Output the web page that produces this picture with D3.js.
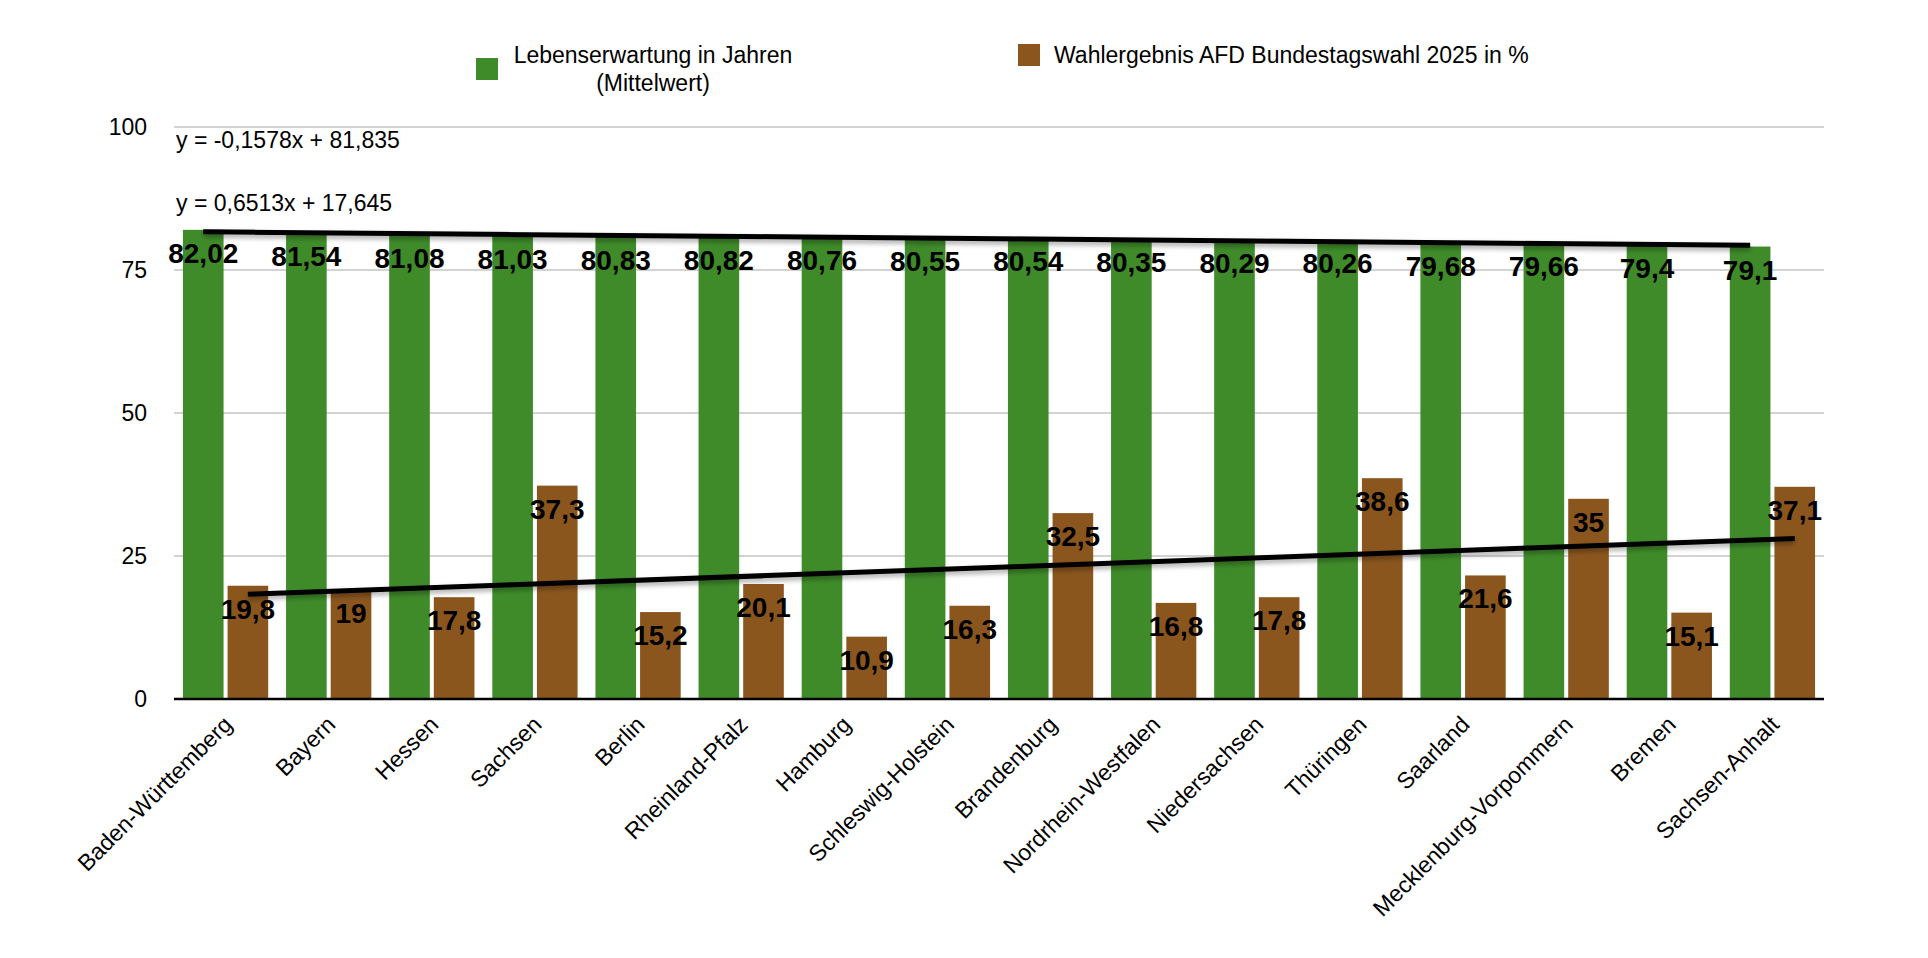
<!DOCTYPE html>
<html>
<head>
<meta charset="utf-8">
<script src="https://cdn.jsdelivr.net/npm/d3@7"></script>
<style>
  body { margin: 0; background: #fff; }
  svg { font-family: "Liberation Sans", Arial, Helvetica, sans-serif; }
</style>
</head>
<body>
<div id="chart"></div>
<script>
// data
const categories = ["Baden-Württemberg", "Bayern", "Hessen", "Sachsen", "Berlin", "Rheinland-Pfalz",
    "Hamburg", "Schleswig-Holstein", "Brandenburg", "Nordrhein-Westfalen", "Niedersachsen",
    "Thüringen", "Saarland", "Mecklenburg-Vorpommern", "Bremen", "Sachsen-Anhalt"];
const lifeExpectancy = [82.02, 81.54, 81.08, 81.03, 80.83, 80.82, 80.76, 80.55, 80.54, 80.35, 80.29, 80.26, 79.68, 79.66, 79.4, 79.1];
const afdResult = [19.8, 19, 17.8, 37.3, 15.2, 20.1, 10.9, 16.3, 32.5, 16.8, 17.8, 38.6, 21.6, 35, 15.1, 37.1];
const seriesNames = ["Lebenserwartung in Jahren (Mittelwert)", "Wahlergebnis AFD Bundestagswahl 2025 in %"];
const yTicks = [0, 25, 50, 75, 100];
// linear trend lines: [slope, intercept]
const trendLife = [-0.1578, 81.835];
const trendAfd = [0.6513, 17.645];
const trendLabels = ["y = -0,1578x + 81,835", "y = 0,6513x + 17,645"];

const colors = ["#3f8b2a", "#8b561e"];

const svgWidth = 1928, svgHeight = 958;
const margin = { top: 127, right: 104, bottom: 259, left: 174 };
const width = svgWidth - margin.left - margin.right;
const height = svgHeight - margin.top - margin.bottom;

const svg = d3.select("#chart")
    .append("svg")
    .attr("width", svgWidth)
    .attr("height", svgHeight);

// soft shadow under the trend lines
const defs = svg.append("defs");
defs.append("filter")
    .attr("id", "shadow")
    .attr("x", "-5%").attr("y", "-200%")
    .attr("width", "110%").attr("height", "500%")
    .append("feDropShadow")
    .attr("dx", 0).attr("dy", 3)
    .attr("stdDeviation", 2.5)
    .attr("flood-color", "#000")
    .attr("flood-opacity", 0.35);

const g = svg.append("g")
    .attr("transform", "translate(" + margin.left + "," + margin.top + ")");

const x0 = d3.scaleBand()
    .domain(categories)
    .range([0, width]);

const x1 = d3.scaleBand()
    .domain([0, 1])
    .range([0, x0.bandwidth()])
    .paddingInner(0.09)
    .paddingOuter(0.2);

const y = d3.scaleLinear()
    .domain([0, 100])
    .range([height, 0]);

// gridlines
g.selectAll(".grid")
    .data(yTicks.filter(d => d > 0))
    .enter()
    .append("line")
    .attr("x1", 0)
    .attr("x2", width)
    .attr("y1", d => y(d))
    .attr("y2", d => y(d))
    .attr("stroke", "#c4c4c4")
    .attr("stroke-width", 1.5);

// y tick labels
const yAxis = g.append("g")
    .call(d3.axisLeft(y).tickValues(yTicks).tickSize(0).tickPadding(27));
yAxis.select(".domain").remove();
yAxis.selectAll("text")
    .attr("font-size", 23)
    .attr("fill", "#000")
    .style("font-family", "inherit");

// bars
const rows = categories.map((c, i) => ({ cat: c, values: [lifeExpectancy[i], afdResult[i]] }));

const groups = g.selectAll(".group")
    .data(rows)
    .enter()
    .append("g")
    .attr("transform", d => "translate(" + x0(d.cat) + ",0)");

groups.selectAll("rect")
    .data(d => d.values.map((v, k) => ({ k: k, v: v })))
    .enter()
    .append("rect")
    .attr("x", d => x1(d.k))
    .attr("y", d => y(d.v))
    .attr("width", x1.bandwidth())
    .attr("height", d => y(0) - y(d.v))
    .attr("fill", d => colors[d.k]);

// baseline
g.append("line")
    .attr("x1", 0)
    .attr("x2", width)
    .attr("y1", y(0))
    .attr("y2", y(0))
    .attr("stroke", "#000")
    .attr("stroke-width", 2.5);

// trend lines
function trendLine(coef, k) {
    const n = categories.length;
    const pts = [1, n].map(i => [
        x0(categories[i - 1]) + x1(k) + x1.bandwidth() / 2,
        y(coef[0] * i + coef[1])
    ]);
    g.append("path")
        .attr("d", d3.line()(pts))
        .attr("stroke", "#000")
        .attr("stroke-width", 5)
        .attr("fill", "none")
        .attr("filter", "url(#shadow)");
}
trendLine(trendLife, 0);
trendLine(trendAfd, 1);

// value labels
const fmt = v => String(v).replace(".", ",");
groups.selectAll(".val")
    .data(d => d.values.map((v, k) => ({ k: k, v: v })))
    .enter()
    .append("text")
    .attr("x", d => x1(d.k) + x1.bandwidth() / 2)
    .attr("y", d => y(d.v) + 33)
    .attr("text-anchor", "middle")
    .attr("font-size", 28)
    .attr("font-weight", "bold")
    .attr("fill", "#000")
    .text(d => fmt(d.v));

// x labels
g.selectAll(".xlab")
    .data(categories)
    .enter()
    .append("text")
    .attr("transform", d => "translate(" + (x0(d) + x0.bandwidth() / 2 + 8) + "," + (y(0) + 27) + ") rotate(-45)")
    .attr("text-anchor", "end")
    .attr("font-size", 23)
    .attr("fill", "#000")
    .text(d => d);

// trend equations
trendLabels.forEach((t, i) => {
    svg.append("text")
        .attr("x", 176)
        .attr("y", [148, 211][i])
        .attr("font-size", 23)
        .attr("fill", "#000")
        .text(t);
});

// legend
const leg1 = svg.append("g");
leg1.append("rect")
    .attr("x", 476).attr("y", 58)
    .attr("width", 22).attr("height", 22)
    .attr("fill", colors[0]);
const legText = leg1.append("text")
    .attr("font-size", 23)
    .attr("fill", "#000")
    .attr("text-anchor", "middle");
legText.append("tspan").attr("x", 653).attr("y", 63).text("Lebenserwartung in Jahren");
legText.append("tspan").attr("x", 653).attr("y", 91).text("(Mittelwert)");

const leg2 = svg.append("g");
leg2.append("rect")
    .attr("x", 1018).attr("y", 44)
    .attr("width", 22).attr("height", 22)
    .attr("fill", colors[1]);
leg2.append("text")
    .attr("x", 1054).attr("y", 63)
    .attr("font-size", 23)
    .attr("fill", "#000")
    .text(seriesNames[1]);
</script>
</body>
</html>
